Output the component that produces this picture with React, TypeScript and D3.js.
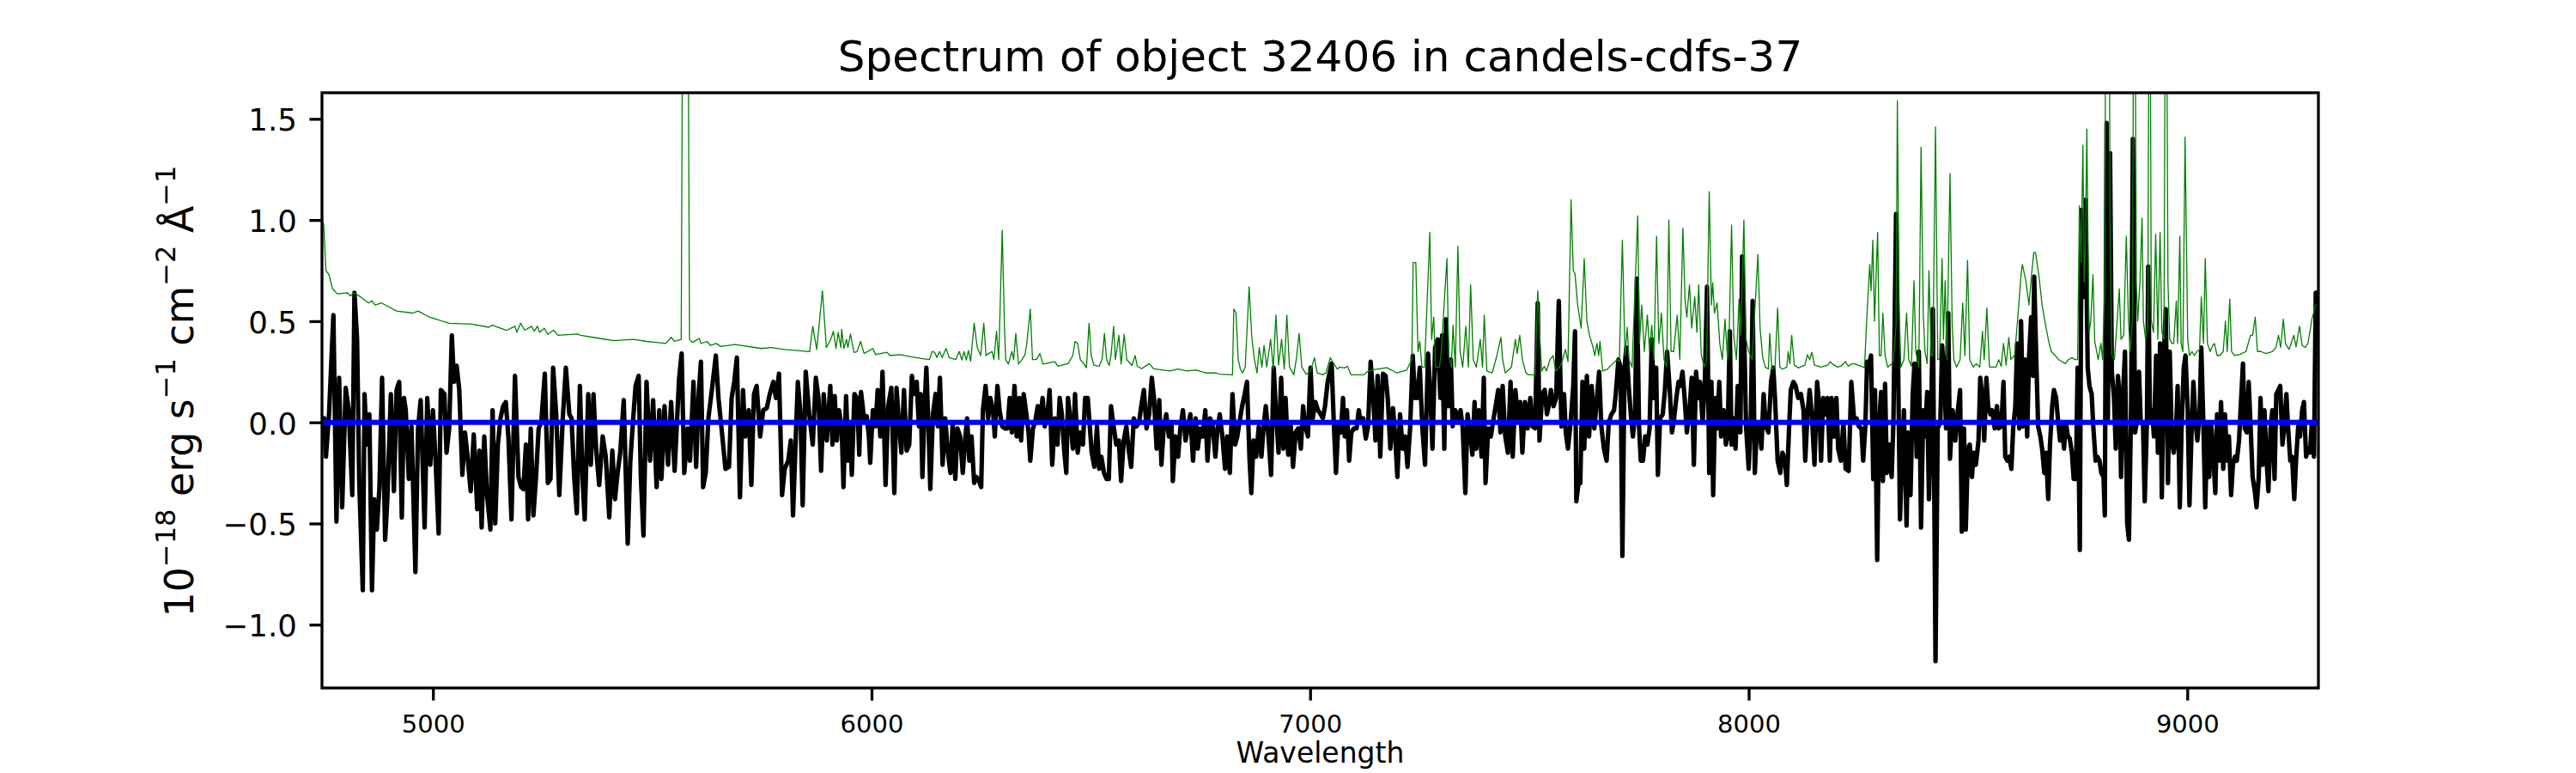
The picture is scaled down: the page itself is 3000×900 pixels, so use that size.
import { useEffect, useRef } from 'react'
import * as d3 from 'd3'

const title = 'Spectrum of object 32406 in candels-cdfs-37'
const xLabel = 'Wavelength'
const xTicks = [5000, 6000, 7000, 8000, 9000]
const yTicks = [-1.0, -0.5, 0.0, 0.5, 1.0, 1.5]
const xDomain = [4747, 9299]
const yDomain = [-1.313, 1.629]

// observed flux, [wavelength, flux]
const flux: [number, number][] = [
  [4748, 0.0], [4752, 0.02], [4756, -0.17], [4763, 0.04], [4773, 0.53], [4780, -0.49], [4786, 0.22], [4793, -0.42], [4801, 0.17], [4808, 0.06],
  [4816, -0.36], [4821, 0.64], [4827, 0.41], [4832, -0.30], [4840, -0.83], [4844, 0.14], [4849, -0.11], [4855, 0.04], [4861, -0.83], [4866, -0.38],
  [4872, -0.53], [4878, -0.32], [4884, 0.22], [4891, -0.58], [4896, -0.38], [4904, 0.14], [4911, -0.34], [4917, 0.16], [4923, 0.20], [4929, -0.47],
  [4934, 0.12], [4938, 0.06], [4945, -0.28], [4951, -0.02], [4960, -0.74], [4966, -0.03], [4972, 0.11], [4981, -0.52], [4987, 0.12], [4994, -0.21],
  [5000, 0.06], [5006, -0.19], [5013, -0.55], [5018, 0.16], [5026, 0.14], [5031, -0.15], [5037, -0.03], [5043, 0.43], [5048, 0.20], [5054, 0.28],
  [5060, 0.16], [5067, -0.26], [5073, -0.05], [5078, -0.15], [5086, -0.34], [5093, -0.06], [5101, -0.43], [5106, -0.14], [5111, -0.52], [5117, -0.07],
  [5123, -0.35], [5131, -0.53], [5136, 0.06], [5142, -0.50], [5148, -0.11], [5154, 0.02], [5160, 0.08], [5166, 0.10], [5172, -0.07], [5179, -0.48],
  [5187, 0.23], [5195, -0.27], [5201, -0.32], [5206, -0.33], [5212, -0.11], [5217, -0.48], [5223, -0.03], [5229, -0.46], [5235, -0.27], [5241, -0.03],
  [5247, 0.00], [5255, 0.24], [5262, -0.30], [5268, -0.28], [5274, 0.27], [5281, 0.04], [5288, -0.36], [5296, 0.02], [5303, 0.27], [5311, 0.04],
  [5316, 0.02], [5322, -0.27], [5328, -0.45], [5335, 0.18], [5341, -0.28], [5346, -0.48], [5354, 0.14], [5360, -0.21], [5366, 0.14], [5372, -0.13],
  [5379, -0.31], [5387, -0.07], [5394, -0.17], [5402, -0.47], [5409, -0.14], [5415, -0.38], [5421, -0.25], [5427, -0.15], [5435, 0.11], [5444, -0.60],
  [5450, -0.19], [5456, 0.00], [5462, 0.18], [5469, 0.23], [5474, -0.27], [5480, -0.56], [5487, 0.20], [5495, -0.19], [5502, 0.11], [5510, -0.32],
  [5516, 0.06], [5521, -0.28], [5528, 0.08], [5536, -0.21], [5543, 0.10], [5551, -0.24], [5561, 0.21], [5567, 0.34], [5573, -0.25], [5581, -0.03],
  [5586, -0.19], [5594, 0.20], [5600, -0.22], [5606, 0.14], [5611, 0.30], [5616, -0.32], [5622, -0.25], [5628, 0.02], [5637, 0.18], [5645, 0.33],
  [5651, 0.12], [5658, -0.03], [5667, -0.23], [5675, -0.22], [5681, 0.12], [5687, 0.20], [5693, 0.32], [5700, -0.37], [5707, 0.16], [5712, -0.07],
  [5720, 0.06], [5726, -0.31], [5732, 0.14], [5738, 0.18], [5746, -0.07], [5753, 0.06], [5761, 0.07], [5768, 0.14], [5776, 0.20], [5782, 0.12],
  [5789, 0.24], [5796, -0.36], [5802, -0.23], [5810, -0.19], [5816, -0.09], [5821, -0.46], [5828, -0.03], [5832, 0.20], [5838, 0.04], [5843, -0.41],
  [5850, 0.25], [5858, 0.04], [5866, -0.11], [5873, 0.22], [5879, 0.12], [5885, -0.24], [5891, 0.14], [5898, -0.09], [5906, 0.18], [5911, -0.11],
  [5916, 0.13], [5921, -0.09], [5926, 0.06], [5932, -0.03], [5936, -0.32], [5942, 0.13], [5947, -0.19], [5951, 0.00], [5955, -0.26], [5961, 0.14],
  [5967, 0.12], [5972, -0.16], [5976, 0.15], [5983, 0.02], [5989, 0.03], [5994, -0.07], [5997, -0.20], [6003, 0.06], [6009, -0.02], [6014, 0.16],
  [6020, -0.07], [6025, 0.25], [6032, -0.31], [6038, 0.08], [6045, 0.17], [6052, -0.35], [6057, 0.17], [6063, -0.02], [6068, -0.15], [6074, 0.16],
  [6080, -0.14], [6086, -0.11], [6092, 0.23], [6097, 0.14], [6103, 0.20], [6108, -0.02], [6112, 0.14], [6116, -0.27], [6121, 0.08], [6125, 0.27],
  [6130, -0.03], [6134, -0.33], [6140, 0.04], [6146, 0.14], [6151, -0.02], [6156, 0.22], [6162, -0.21], [6168, 0.02], [6174, -0.15], [6180, -0.25],
  [6185, 0.00], [6191, -0.28], [6196, -0.03], [6202, -0.07], [6208, -0.25], [6214, -0.07], [6218, 0.02], [6223, -0.19], [6228, -0.07], [6234, -0.30],
  [6239, -0.27], [6245, -0.29], [6250, -0.32], [6254, 0.06], [6260, 0.18], [6266, 0.02], [6271, 0.12], [6277, 0.06], [6281, -0.07], [6287, 0.18],
  [6292, 0.06], [6298, -0.02], [6304, -0.03], [6310, -0.03], [6315, 0.12], [6320, -0.05], [6326, 0.18], [6331, -0.07], [6337, 0.12], [6341, -0.09],
  [6347, 0.14], [6353, 0.04], [6358, -0.05], [6362, -0.19], [6368, -0.03], [6373, 0.00], [6379, 0.08], [6384, 0.00], [6390, 0.12], [6395, -0.02],
  [6401, 0.04], [6406, 0.16], [6412, -0.21], [6418, 0.02], [6424, -0.11], [6429, 0.12], [6434, 0.04], [6439, -0.13], [6444, -0.25], [6448, 0.12],
  [6454, 0.00], [6459, -0.13], [6464, 0.14], [6470, -0.15], [6476, -0.05], [6482, -0.11], [6487, 0.12], [6493, 0.12], [6497, 0.00], [6502, -0.15],
  [6508, -0.22], [6514, -0.02], [6519, -0.23], [6524, -0.17], [6530, -0.25], [6536, -0.28], [6541, -0.28], [6546, 0.08], [6552, -0.02], [6558, -0.11],
  [6564, -0.09], [6569, -0.29], [6575, -0.09], [6581, -0.02], [6586, -0.13], [6592, -0.22], [6598, 0.02], [6604, -0.02], [6610, 0.00], [6615, 0.08],
  [6621, 0.16], [6627, -0.03], [6633, 0.04], [6639, 0.22], [6644, 0.12], [6650, -0.13], [6656, 0.11], [6661, -0.21], [6666, -0.03], [6672, 0.04],
  [6678, -0.07], [6684, 0.00], [6687, -0.29], [6693, -0.07], [6699, -0.17], [6704, -0.03], [6710, 0.06], [6716, -0.09], [6721, -0.03], [6727, 0.04],
  [6733, -0.19], [6739, 0.02], [6744, -0.13], [6749, -0.03], [6755, -0.07], [6761, 0.06], [6766, -0.19], [6772, 0.02], [6778, -0.02], [6784, -0.17],
  [6789, -0.03], [6794, 0.04], [6800, -0.07], [6806, -0.23], [6811, -0.07], [6817, -0.25], [6823, 0.14], [6829, -0.11], [6834, -0.07], [6839, 0.00],
  [6845, 0.08], [6851, 0.14], [6856, 0.20], [6862, -0.19], [6866, -0.35], [6871, -0.09], [6877, -0.17], [6883, -0.02], [6889, -0.17], [6894, -0.02],
  [6899, 0.08], [6905, -0.07], [6911, -0.26], [6917, 0.27], [6922, 0.06], [6928, -0.15], [6934, 0.22], [6939, -0.13], [6944, 0.12], [6950, -0.16],
  [6956, -0.02], [6961, -0.22], [6967, -0.05], [6973, -0.03], [6979, -0.13], [6984, 0.08], [6989, -0.02], [6995, -0.07], [7001, 0.27], [7006, 0.02],
  [7012, 0.10], [7018, 0.06], [7024, 0.04], [7029, 0.02], [7034, 0.08], [7040, 0.20], [7045, 0.25], [7049, 0.29], [7054, 0.00], [7059, -0.25],
  [7064, -0.02], [7070, -0.05], [7075, 0.12], [7079, -0.07], [7084, 0.06], [7089, -0.19], [7094, -0.05], [7100, -0.03], [7106, -0.03], [7111, 0.06],
  [7115, 0.00], [7121, 0.02], [7127, -0.08], [7132, -0.02], [7138, 0.30], [7144, 0.12], [7149, -0.09], [7154, 0.23], [7160, -0.17], [7166, 0.24],
  [7172, 0.23], [7177, 0.12], [7183, -0.13], [7189, 0.07], [7194, -0.07], [7199, -0.27], [7205, 0.04], [7211, -0.13], [7217, -0.07], [7222, -0.22],
  [7228, -0.03], [7234, 0.33], [7239, 0.12], [7244, 0.12], [7250, 0.27], [7256, -0.03], [7262, -0.21], [7269, 0.34], [7274, 0.14], [7279, -0.13],
  [7285, 0.37], [7291, 0.41], [7297, 0.12], [7301, 0.43], [7306, -0.13], [7310, 0.51], [7316, 0.08], [7321, 0.31], [7325, -0.02], [7331, 0.06],
  [7337, 0.00], [7343, 0.06], [7348, -0.03], [7354, -0.35], [7359, 0.04], [7364, -0.03], [7370, -0.16], [7375, 0.10], [7379, -0.13], [7385, 0.06],
  [7391, -0.17], [7396, 0.22], [7400, -0.30], [7406, -0.03], [7412, -0.07], [7417, 0.00], [7423, 0.08], [7429, 0.16], [7434, -0.05], [7439, 0.18],
  [7445, -0.07], [7451, -0.15], [7457, 0.20], [7462, -0.17], [7468, 0.16], [7474, 0.02], [7479, 0.10], [7484, -0.15], [7490, 0.10], [7496, -0.03],
  [7502, 0.12], [7507, -0.02], [7513, -0.03], [7519, 0.59], [7523, -0.09], [7529, 0.14], [7535, 0.16], [7540, 0.04], [7544, 0.08], [7549, 0.16],
  [7555, 0.08], [7561, 0.12], [7567, 0.60], [7573, -0.02], [7579, 0.14], [7583, -0.05], [7588, -0.13], [7594, 0.00], [7600, 0.18], [7604, 0.45],
  [7607, -0.39], [7612, -0.30], [7616, -0.30], [7621, 0.20], [7625, -0.13], [7631, 0.23], [7636, -0.07], [7642, 0.18], [7648, -0.03], [7654, 0.12],
  [7659, 0.25], [7664, -0.02], [7670, -0.13], [7676, -0.19], [7681, 0.00], [7687, 0.04], [7693, 0.06], [7697, 0.14], [7703, 0.31], [7708, 0.27],
  [7712, -0.66], [7717, 0.27], [7721, 0.37], [7727, 0.16], [7732, 0.02], [7736, -0.07], [7741, 0.04], [7745, 0.71], [7750, -0.02], [7754, -0.19],
  [7759, -0.19], [7764, -0.07], [7769, -0.11], [7774, -0.03], [7779, 0.41], [7784, 0.12], [7789, 0.27], [7793, -0.26], [7798, 0.02], [7804, 0.04],
  [7809, 0.16], [7814, 0.35], [7820, 0.16], [7825, -0.05], [7829, 0.00], [7835, 0.12], [7840, 0.20], [7844, 0.18], [7849, 0.25], [7854, 0.12],
  [7859, -0.05], [7865, 0.06], [7870, 0.22], [7875, -0.21], [7880, 0.25], [7885, 0.12], [7889, 0.20], [7895, 0.00], [7900, 0.20], [7905, 0.67],
  [7910, -0.25], [7915, 0.20], [7919, -0.36], [7924, 0.12], [7928, -0.03], [7933, 0.20], [7937, -0.07], [7943, 0.06], [7948, -0.11], [7952, -0.07],
  [7957, 0.45], [7961, -0.11], [7966, 0.02], [7970, -0.13], [7975, 0.18], [7981, -0.05], [7985, 0.82], [7990, 0.41], [7994, -0.02], [8000, -0.23],
  [8005, 0.04], [8009, 0.60], [8014, -0.25], [8019, 0.00], [8024, -0.02], [8029, -0.13], [8034, 0.14], [8039, -0.02], [8045, -0.05], [8051, 0.20],
  [8056, 0.27], [8060, 0.12], [8066, -0.19], [8072, -0.25], [8077, -0.15], [8083, -0.19], [8087, -0.31], [8092, -0.03], [8096, 0.16], [8102, 0.20],
  [8107, 0.18], [8113, 0.12], [8119, 0.14], [8125, 0.06], [8129, -0.19], [8134, 0.04], [8139, 0.16], [8144, 0.04], [8150, -0.21], [8156, 0.20],
  [8161, 0.08], [8165, -0.19], [8170, 0.12], [8174, 0.04], [8180, 0.12], [8185, -0.19], [8189, 0.12], [8195, -0.07], [8200, 0.12], [8204, -0.13],
  [8210, -0.19], [8216, 0.00], [8221, -0.23], [8228, -0.24], [8234, 0.20], [8240, 0.02], [8246, 0.02], [8251, -0.02], [8257, -0.03], [8261, -0.19],
  [8266, -0.02], [8270, 0.30], [8275, 0.29], [8279, 0.33], [8284, -0.28], [8288, 0.16], [8293, -0.68], [8297, -0.02], [8302, 0.15], [8306, -0.29],
  [8311, 0.19], [8315, -0.25], [8321, -0.11], [8326, -0.27], [8330, 0.00], [8336, 1.03], [8341, 0.23], [8345, -0.48], [8350, -0.15], [8354, 0.06],
  [8360, -0.51], [8364, -0.05], [8369, -0.36], [8374, 0.14], [8378, 0.29], [8383, -0.17], [8388, 0.35], [8393, -0.52], [8398, 0.06], [8402, -0.07],
  [8407, 0.15], [8411, -0.38], [8416, 0.02], [8420, 0.56], [8426, -1.18], [8431, -0.03], [8437, 0.00], [8441, 0.38], [8446, 0.23], [8450, -0.03],
  [8455, 0.54], [8459, -0.18], [8465, 0.06], [8471, -0.09], [8476, 0.04], [8482, 0.16], [8486, -0.54], [8491, -0.03], [8495, -0.53], [8500, -0.13],
  [8504, -0.11], [8509, -0.27], [8513, -0.15], [8518, -0.21], [8524, -0.09], [8528, 0.22], [8533, 0.12], [8537, -0.09], [8542, 0.22], [8546, 0.08],
  [8551, 0.04], [8555, 0.06], [8561, -0.03], [8566, 0.08], [8570, -0.03], [8576, -0.02], [8581, 0.20], [8585, -0.17], [8590, -0.19], [8594, -0.17],
  [8599, -0.23], [8603, -0.03], [8608, 0.08], [8612, 0.39], [8617, -0.03], [8621, 0.50], [8626, -0.02], [8630, 0.31], [8635, -0.07], [8639, 0.31],
  [8644, 0.52], [8648, 0.23], [8651, 0.72], [8656, 0.29], [8660, -0.02], [8665, -0.07], [8669, -0.13], [8674, -0.25], [8678, -0.15], [8683, -0.38],
  [8687, -0.11], [8692, 0.08], [8696, 0.16], [8701, 0.12], [8705, 0.02], [8710, -0.09], [8714, 0.00], [8719, -0.13], [8723, 0.00], [8728, -0.07],
  [8732, -0.08], [8737, -0.15], [8741, -0.28], [8746, -0.28], [8750, 0.27], [8755, -0.63], [8759, 1.05], [8764, 0.62], [8768, 1.10], [8773, 0.27],
  [8777, 0.18], [8782, 0.14], [8786, -0.03], [8791, -0.19], [8795, -0.17], [8800, -0.19], [8804, -0.25], [8809, -0.27], [8812, -0.46], [8816, 1.48],
  [8819, 0.02], [8824, 1.33], [8828, 0.25], [8833, 0.12], [8837, -0.13], [8842, 0.23], [8846, 0.12], [8849, -0.27], [8854, 0.16], [8858, 0.35],
  [8863, -0.50], [8867, -0.58], [8872, 0.08], [8876, 1.40], [8881, -0.05], [8885, 0.00], [8890, 0.25], [8894, 0.00], [8899, 0.00], [8903, -0.39],
  [8908, 0.00], [8911, 0.77], [8915, 0.00], [8920, 0.06], [8924, -0.07], [8929, 0.33], [8933, -0.15], [8938, 0.39], [8942, -0.37], [8947, 0.35],
  [8951, 0.56], [8956, -0.30], [8960, 0.35], [8965, -0.09], [8969, -0.15], [8974, -0.07], [8978, 0.18], [8983, -0.42], [8987, -0.03], [8992, 0.27],
  [8996, 0.33], [9001, 0.06], [9005, -0.41], [9010, -0.03], [9014, 0.20], [9019, 0.00], [9023, -0.09], [9028, 0.04], [9032, 0.37], [9037, -0.03],
  [9041, -0.42], [9046, 0.00], [9050, -0.27], [9055, -0.02], [9059, -0.15], [9064, -0.35], [9068, 0.04], [9073, -0.19], [9077, 0.10], [9082, -0.23],
  [9086, 0.04], [9091, -0.19], [9095, -0.07], [9100, -0.36], [9104, -0.21], [9109, -0.17], [9113, -0.19], [9118, -0.09], [9122, 0.08], [9127, 0.29],
  [9131, -0.03], [9136, -0.05], [9140, 0.20], [9145, -0.05], [9149, -0.27], [9154, -0.34], [9158, -0.42], [9163, -0.27], [9167, 0.12], [9172, -0.21],
  [9176, 0.06], [9181, -0.19], [9185, -0.34], [9190, -0.03], [9194, 0.06], [9199, -0.28], [9203, 0.14], [9208, 0.16], [9212, 0.18], [9217, -0.11],
  [9221, -0.03], [9226, 0.14], [9230, -0.03], [9235, -0.19], [9239, -0.17], [9244, -0.38], [9248, -0.19], [9253, -0.02], [9257, -0.07], [9262, 0.06],
  [9266, 0.10], [9271, -0.17], [9275, -0.13], [9280, -0.15], [9284, 0.00], [9289, -0.17], [9293, 0.64], [9298, 0.64]
]

// flux uncertainty, [wavelength, sigma]
const fluxError: [number, number][] = [
  [4748, 1.0], [4751, 0.975], [4756, 0.75], [4763, 0.73], [4771, 0.66], [4782, 0.635], [4805, 0.64], [4812, 0.625], [4820, 0.64], [4835, 0.62],
  [4853, 0.59], [4861, 0.60], [4868, 0.58], [4883, 0.59], [4917, 0.55], [4954, 0.54], [4966, 0.55], [4992, 0.52], [5037, 0.49], [5089, 0.485],
  [5127, 0.47], [5135, 0.48], [5168, 0.455], [5187, 0.475], [5191, 0.445], [5200, 0.49], [5209, 0.455], [5225, 0.475], [5231, 0.45], [5238, 0.475],
  [5243, 0.445], [5254, 0.465], [5262, 0.435], [5275, 0.455], [5285, 0.43], [5329, 0.437], [5337, 0.43], [5374, 0.417], [5412, 0.404], [5457, 0.41],
  [5487, 0.40], [5531, 0.39], [5543, 0.42], [5551, 0.40], [5566, 0.41], [5571, 3.0], [5580, 3.0], [5585, 0.41], [5592, 0.395], [5607, 0.415],
  [5611, 0.39], [5625, 0.40], [5633, 0.38], [5646, 0.39], [5656, 0.375], [5689, 0.385], [5749, 0.365], [5771, 0.37], [5801, 0.36], [5859, 0.35],
  [5866, 0.475], [5875, 0.36], [5888, 0.65], [5897, 0.37], [5900, 0.38], [5907, 0.41], [5913, 0.45], [5919, 0.365], [5924, 0.445], [5930, 0.37],
  [5932, 0.46], [5937, 0.365], [5943, 0.41], [5946, 0.37], [5952, 0.437], [5960, 0.345], [5967, 0.35], [5975, 0.40], [5983, 0.34], [6003, 0.365],
  [6009, 0.335], [6035, 0.346], [6043, 0.33], [6065, 0.335], [6087, 0.325], [6117, 0.315], [6132, 0.31], [6138, 0.35], [6144, 0.346], [6149, 0.32],
  [6155, 0.35], [6161, 0.32], [6170, 0.365], [6177, 0.32], [6192, 0.31], [6200, 0.35], [6206, 0.308], [6211, 0.35], [6216, 0.308], [6221, 0.355],
  [6226, 0.302], [6234, 0.49], [6241, 0.37], [6249, 0.33], [6256, 0.49], [6261, 0.33], [6267, 0.34], [6275, 0.35], [6279, 0.31], [6285, 0.45],
  [6290, 0.31], [6298, 0.95], [6303, 0.48], [6306, 0.31], [6312, 0.288], [6320, 0.35], [6324, 0.31], [6329, 0.44], [6335, 0.288], [6343, 0.31],
  [6350, 0.335], [6354, 0.39], [6362, 0.56], [6367, 0.31], [6376, 0.31], [6384, 0.34], [6391, 0.288], [6418, 0.30], [6425, 0.277], [6448, 0.29],
  [6459, 0.33], [6464, 0.40], [6470, 0.39], [6476, 0.31], [6485, 0.288], [6490, 0.27], [6496, 0.49], [6501, 0.33], [6507, 0.283], [6519, 0.277],
  [6526, 0.315], [6531, 0.44], [6536, 0.31], [6542, 0.281], [6546, 0.33], [6552, 0.475], [6556, 0.31], [6564, 0.43], [6569, 0.288], [6576, 0.435],
  [6582, 0.31], [6594, 0.281], [6601, 0.33], [6606, 0.277], [6616, 0.265], [6633, 0.29], [6643, 0.265], [6680, 0.254], [6699, 0.264], [6718, 0.254],
  [6740, 0.258], [6762, 0.244], [6785, 0.244], [6793, 0.238], [6823, 0.235], [6826, 0.56], [6831, 0.54], [6836, 0.31], [6841, 0.263], [6846, 0.244],
  [6852, 0.273], [6861, 0.67], [6867, 0.42], [6873, 0.31], [6879, 0.244], [6884, 0.37], [6890, 0.273], [6895, 0.38], [6901, 0.273], [6910, 0.41],
  [6916, 0.263], [6922, 0.53], [6928, 0.283], [6935, 0.41], [6941, 0.263], [6947, 0.53], [6953, 0.273], [6963, 0.235], [6969, 0.32], [6975, 0.44],
  [6981, 0.273], [6991, 0.238], [7001, 0.254], [7010, 0.32], [7016, 0.244], [7029, 0.235], [7036, 0.244], [7046, 0.32], [7051, 0.30], [7062, 0.263],
  [7067, 0.273], [7078, 0.269], [7085, 0.277], [7093, 0.235], [7123, 0.235], [7130, 0.25], [7145, 0.26], [7175, 0.27], [7198, 0.244], [7220, 0.258],
  [7232, 0.31], [7235, 0.79], [7241, 0.79], [7246, 0.35], [7250, 0.40], [7255, 0.273], [7261, 0.273], [7273, 0.94], [7277, 0.41], [7282, 0.52],
  [7286, 0.273], [7295, 0.273], [7299, 0.35], [7312, 0.81], [7316, 0.33], [7322, 0.273], [7326, 0.48], [7331, 0.273], [7337, 0.87], [7342, 0.35],
  [7348, 0.273], [7355, 0.475], [7361, 0.273], [7366, 0.68], [7372, 0.31], [7379, 0.273], [7388, 0.41], [7393, 0.273], [7397, 0.53], [7403, 0.254],
  [7415, 0.244], [7426, 0.33], [7435, 0.42], [7439, 0.31], [7445, 0.244], [7459, 0.273], [7468, 0.41], [7472, 0.34], [7478, 0.43], [7484, 0.31],
  [7492, 0.244], [7498, 0.235], [7513, 0.235], [7519, 0.65], [7524, 0.41], [7528, 0.254], [7534, 0.277], [7539, 0.254], [7547, 0.31], [7554, 0.33],
  [7560, 0.254], [7569, 0.273], [7576, 0.31], [7582, 0.36], [7588, 0.30], [7595, 1.10], [7600, 0.75], [7604, 0.735], [7610, 0.58], [7618, 0.465],
  [7625, 0.81], [7631, 0.50], [7637, 0.43], [7644, 0.38], [7649, 0.33], [7654, 0.39], [7658, 0.33], [7661, 0.40], [7667, 0.254], [7678, 0.263],
  [7689, 0.288], [7700, 0.31], [7705, 0.30], [7712, 0.90], [7718, 0.33], [7723, 0.47], [7727, 0.31], [7734, 0.273], [7747, 1.02], [7751, 0.39],
  [7756, 0.58], [7762, 0.35], [7769, 0.53], [7774, 0.35], [7779, 0.48], [7784, 0.31], [7790, 0.92], [7795, 0.39], [7801, 0.54], [7807, 0.31],
  [7813, 0.273], [7818, 1.00], [7823, 0.35], [7829, 0.35], [7837, 0.53], [7843, 0.31], [7850, 0.96], [7855, 0.60], [7859, 0.52], [7865, 0.68],
  [7870, 0.465], [7877, 0.62], [7882, 0.445], [7886, 0.68], [7892, 0.33], [7899, 0.273], [7904, 0.31], [7910, 1.14], [7915, 0.58], [7918, 0.69],
  [7922, 0.54], [7928, 0.59], [7934, 0.39], [7940, 0.31], [7946, 0.51], [7952, 0.31], [7955, 0.39], [7961, 0.975], [7966, 0.43], [7972, 0.31],
  [7978, 0.61], [7982, 0.43], [7989, 1.00], [7994, 0.41], [8000, 0.35], [8008, 0.31], [8021, 0.83], [8026, 0.465], [8032, 0.32], [8038, 0.273],
  [8045, 0.263], [8048, 0.44], [8053, 0.263], [8060, 0.273], [8066, 0.565], [8071, 0.273], [8077, 0.263], [8087, 0.273], [8090, 0.35], [8094, 0.29],
  [8098, 0.43], [8104, 0.283], [8113, 0.269], [8128, 0.283], [8134, 0.335], [8139, 0.31], [8144, 0.346], [8150, 0.283], [8165, 0.273], [8180, 0.283],
  [8186, 0.30], [8191, 0.288], [8203, 0.273], [8210, 0.277], [8221, 0.30], [8227, 0.277], [8234, 0.288], [8242, 0.29], [8249, 0.283], [8257, 0.277],
  [8264, 0.27], [8269, 0.50], [8276, 0.78], [8279, 0.65], [8283, 0.90], [8287, 0.50], [8291, 0.76], [8294, 0.94], [8298, 0.33], [8302, 0.33],
  [8306, 0.54], [8311, 0.33], [8317, 0.273], [8326, 0.288], [8330, 0.31], [8336, 0.48], [8339, 1.59], [8343, 0.57], [8347, 0.273], [8354, 0.31],
  [8360, 0.54], [8365, 0.31], [8371, 0.277], [8377, 0.70], [8381, 0.35], [8388, 0.273], [8393, 1.36], [8398, 0.54], [8402, 0.35], [8407, 0.29],
  [8411, 0.75], [8416, 0.33], [8420, 0.33], [8426, 1.46], [8431, 0.31], [8435, 0.31], [8441, 0.81], [8444, 0.41], [8448, 0.70], [8452, 0.31],
  [8459, 1.23], [8464, 0.48], [8468, 0.31], [8474, 0.273], [8482, 0.31], [8488, 0.59], [8493, 0.33], [8499, 0.80], [8504, 0.31], [8512, 0.273],
  [8519, 0.29], [8527, 0.273], [8533, 0.45], [8537, 0.31], [8543, 0.565], [8549, 0.273], [8564, 0.273], [8570, 0.31], [8576, 0.277], [8581, 0.39],
  [8587, 0.283], [8593, 0.42], [8598, 0.31], [8606, 0.33], [8613, 0.50], [8621, 0.73], [8624, 0.78], [8632, 0.70], [8639, 0.58], [8645, 0.73],
  [8650, 0.84], [8654, 0.84], [8662, 0.72], [8669, 0.58], [8677, 0.48], [8684, 0.40], [8690, 0.35], [8699, 0.33], [8707, 0.31], [8714, 0.30],
  [8722, 0.29], [8729, 0.31], [8737, 0.32], [8744, 0.31], [8750, 0.31], [8754, 1.07], [8758, 0.79], [8762, 1.37], [8765, 0.69], [8768, 0.89],
  [8771, 1.45], [8776, 0.44], [8780, 0.50], [8785, 0.73], [8789, 0.40], [8797, 0.31], [8803, 0.39], [8807, 0.31], [8812, 0.70], [8815, 3.0],
  [8821, 3.0], [8824, 0.89], [8828, 0.33], [8834, 0.31], [8840, 0.50], [8845, 0.66], [8849, 0.41], [8855, 0.43], [8861, 0.92], [8866, 0.50],
  [8870, 0.35], [8875, 0.50], [8879, 3.0], [8884, 0.69], [8887, 0.50], [8892, 0.69], [8897, 1.01], [8900, 0.50], [8905, 0.41], [8910, 0.465],
  [8914, 3.0], [8918, 0.50], [8923, 0.445], [8928, 0.93], [8933, 0.41], [8938, 0.94], [8942, 0.445], [8947, 0.41], [8951, 3.0], [8956, 0.69],
  [8960, 0.41], [8965, 0.39], [8969, 0.39], [8975, 0.60], [8978, 0.39], [8983, 0.92], [8986, 0.39], [8990, 0.35], [8995, 1.41], [9001, 0.41],
  [9005, 0.33], [9011, 0.35], [9016, 0.33], [9022, 0.35], [9028, 0.36], [9032, 0.62], [9037, 0.39], [9041, 0.81], [9046, 0.39], [9052, 0.35],
  [9058, 0.379], [9062, 0.39], [9068, 0.33], [9074, 0.33], [9082, 0.35], [9087, 0.50], [9091, 0.35], [9097, 0.61], [9101, 0.35], [9108, 0.33],
  [9119, 0.335], [9134, 0.35], [9144, 0.43], [9149, 0.43], [9155, 0.52], [9160, 0.35], [9168, 0.35], [9179, 0.34], [9194, 0.35], [9202, 0.37],
  [9208, 0.43], [9213, 0.37], [9219, 0.51], [9224, 0.39], [9232, 0.36], [9243, 0.43], [9248, 0.373], [9256, 0.475], [9262, 0.38], [9269, 0.37],
  [9275, 0.39], [9281, 0.465], [9284, 0.51], [9288, 0.54], [9292, 0.58], [9299, 0.58]
]

// y-axis label pieces, true = superscript
const yLabelParts: [string, boolean][] = [
  ['10', false], ['\u221218', true], [' erg s', false], ['\u22121', true],
  [' cm', false], ['\u22122', true], [' \u00c5', false], ['\u22121', true]
]

const font = 'DejaVu Sans'
const W = 3000
const H = 900
const margin = { top: 108, right: 300, bottom: 99, left: 375 }

export default function App() {
  const svgRef = useRef<SVGSVGElement>(null)

  useEffect(() => {
    document.body.style.margin = '0'
    const svg = d3.select(svgRef.current)
    svg.selectAll('*').remove()

    const x = d3.scaleLinear().domain(xDomain).range([margin.left, W - margin.right])
    const y = d3.scaleLinear().domain(yDomain).range([H - margin.bottom, margin.top])

    svg.append('rect').attr('width', W).attr('height', H).attr('fill', '#fff')

    svg.append('defs').append('clipPath').attr('id', 'plot-area')
      .append('rect')
        .attr('x', margin.left)
        .attr('y', margin.top)
        .attr('width', W - margin.left - margin.right)
        .attr('height', H - margin.top - margin.bottom)

    const line = d3.line<[number, number]>()
      .x(d => x(d[0]))
      .y(d => y(d[1]))

    const plot = svg.append('g').attr('clip-path', 'url(#plot-area)')

    plot.append('path')
      .datum(flux)
      .attr('d', line)
      .attr('fill', 'none')
      .attr('stroke', '#000')
      .attr('stroke-width', 5.2)
      .attr('stroke-linejoin', 'round')

    plot.append('path')
      .datum(fluxError)
      .attr('d', line)
      .attr('fill', 'none')
      .attr('stroke', '#008000')
      .attr('stroke-width', 1.3)
      .attr('stroke-linejoin', 'round')

    plot.append('line')
      .attr('x1', margin.left)
      .attr('x2', W - margin.right)
      .attr('y1', y(0))
      .attr('y2', y(0))
      .attr('stroke', '#0000ff')
      .attr('stroke-width', 6)

    // axes
    const xAxis = svg.append('g')
      .attr('transform', `translate(0, ${H - margin.bottom})`)
      .call(d3.axisBottom(x).tickValues(xTicks).tickSize(14.6).tickPadding(17).tickFormat(d3.format('d')))
    xAxis.attr('font-family', font).attr('font-size', 29)
    xAxis.select('.domain').remove()
    xAxis.selectAll('line').attr('stroke-width', 3.3)

    const yAxis = svg.append('g')
      .attr('transform', `translate(${margin.left}, 0)`)
      .call(d3.axisLeft(y).tickValues(yTicks).tickSize(14.6).tickPadding(14.6).tickFormat(d3.format('.1f')))
    yAxis.attr('font-family', font).attr('font-size', 35.5)
    yAxis.select('.domain').remove()
    yAxis.selectAll('line').attr('stroke-width', 3.3)
    yAxis.selectAll('text').attr('dy', '0.38em')

    svg.append('rect')
      .attr('x', margin.left)
      .attr('y', margin.top)
      .attr('width', W - margin.left - margin.right)
      .attr('height', H - margin.top - margin.bottom)
      .attr('fill', 'none')
      .attr('stroke', '#000')
      .attr('stroke-width', 3.3)

    // title and labels
    svg.append('text')
      .attr('x', (margin.left + W - margin.right) / 2)
      .attr('y', 83)
      .attr('text-anchor', 'middle')
      .attr('font-family', font)
      .attr('font-size', 50)
      .text(title)

    svg.append('text')
      .attr('x', (margin.left + W - margin.right) / 2)
      .attr('y', 888)
      .attr('text-anchor', 'middle')
      .attr('font-family', font)
      .attr('font-size', 33)
      .text(xLabel)

    const yl = svg.append('text')
      .attr('transform', `translate(225, ${(margin.top + H - margin.bottom) / 2 + 1}) rotate(-90)`)
      .attr('text-anchor', 'middle')
      .attr('font-family', font)
      .attr('font-size', 45.8)
    let shifted = false
    yLabelParts.forEach(([txt, sup]) => {
      const t = yl.append('tspan').text(txt)
      if (sup) t.attr('font-size', 32)
      if (sup && !shifted) { t.attr('dy', -21); shifted = true }
      else if (!sup && shifted) { t.attr('dy', 21); shifted = false }
    })
  }, [])

  return <svg ref={svgRef} width={W} height={H} viewBox={`0 0 ${W} ${H}`} style={{ display: 'block' }} />
}
